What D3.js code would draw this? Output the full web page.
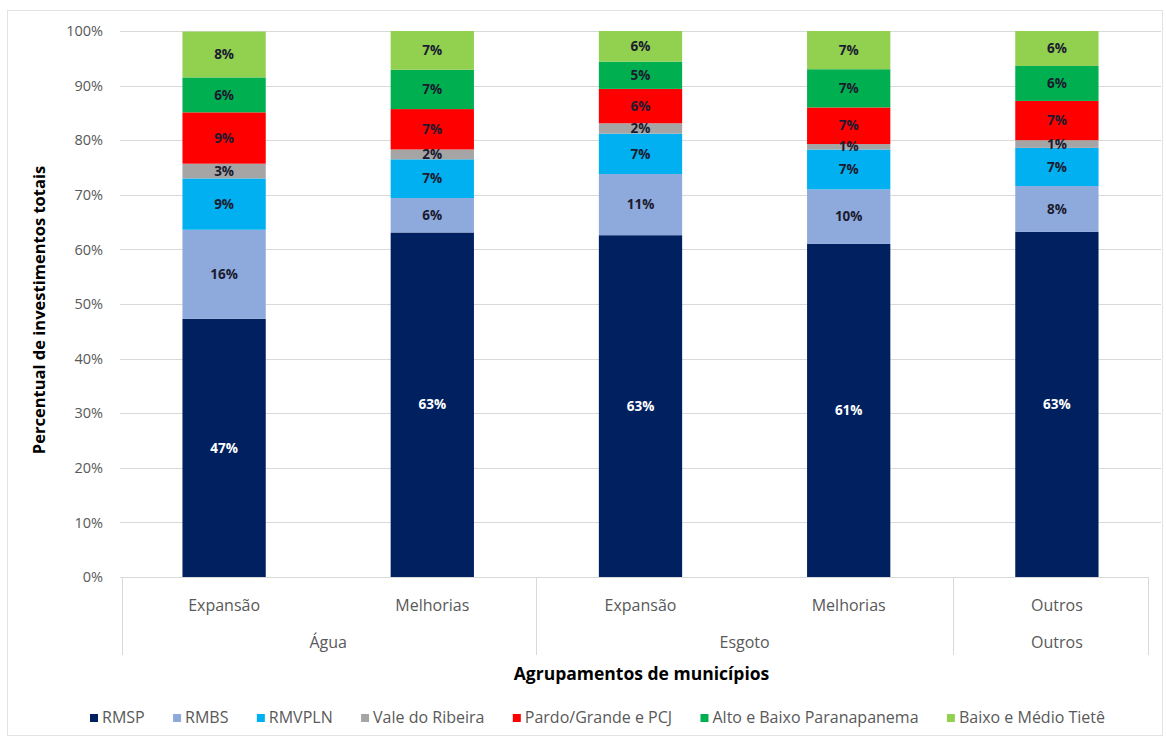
<!DOCTYPE html>
<html><head><meta charset="utf-8">
<script src="https://cdn.jsdelivr.net/npm/d3@7"></script>
<style>
html,body{margin:0;padding:0;background:#fff;}
svg text{font-family:"Open Sans",sans-serif;}
</style></head>
<body><svg id="c" width="1166" height="738"></svg>
<script>
// ---- data ----
const categories = ["Expansão","Melhorias","Expansão","Melhorias","Outros"];
const groups = ["Água","Água","Esgoto","Esgoto","Outros"];
const seriesNames = ["RMSP","RMBS","RMVPLN","Vale do Ribeira","Pardo/Grande e PCJ","Alto e Baixo Paranapanema","Baixo e Médio Tietê"];
const RMSP    = [47.3, 63.1, 62.6, 61.0, 63.2];
const RMBS    = [16.3,  6.3, 11.2, 10.0,  8.4];
const RMVPLN  = [ 9.4,  7.1,  7.4,  7.3,  7.0];
const Vale    = [ 2.7,  1.8,  1.9,  1.0,  1.4];
const Pardo   = [ 9.4,  7.4,  6.3,  6.7,  7.2];
const Alto    = [ 6.4,  7.2,  5.0,  7.0,  6.4];
const Baixo   = [ 8.4,  7.1,  5.6,  7.0,  6.4];
const yTicks = [0,10,20,30,40,50,60,70,80,90,100];
const colors = ["#002060","#8EA9DB","#00B0F0","#A5A5A5","#FF0000","#00B050","#92D050"];

(function(){
const seriesValues = [RMSP,RMBS,RMVPLN,Vale,Pardo,Alto,Baixo];
const table = categories.map((c,i)=>{
  const o = {idx:i};
  seriesNames.forEach((s,j)=>o[s]=seriesValues[j][i]);
  return o;
});

const svg = d3.select("#c");
svg.append("rect").attr("x",7.5).attr("y",10.5).attr("width",1155).attr("height",725)
  .attr("fill","#fff").attr("stroke","#e3e3e3");

const L=120, R=1161, T=31, B=577;
const x = d3.scaleBand().domain(d3.range(categories.length)).range([L,R]).paddingInner(0.6).paddingOuter(0.3);
const y = d3.scaleLinear().domain([0,100]).range([B,T]);

svg.append("g").selectAll("line").data(yTicks.filter(t=>t>0)).join("line")
  .attr("x1",L).attr("x2",R).attr("y1",d=>Math.round(y(d))+0.5).attr("y2",d=>Math.round(y(d))+0.5)
  .attr("stroke","#d9d9d9").attr("stroke-width",1);

const yAxis = d3.axisLeft(y).tickValues(yTicks).tickFormat(d=>d+"%").tickSize(0).tickPadding(0);
const ya = svg.append("g").attr("transform",`translate(${L-17},0)`).call(yAxis);
ya.select(".domain").remove();
ya.selectAll("text").attr("fill","#595959").style("font-size","14.5px").style("font-family","Open Sans");

const stacked = d3.stack().keys(seriesNames)(table);
const layers = svg.append("g").selectAll("g").data(stacked).join("g").attr("fill",(d,i)=>colors[i]);
layers.selectAll("rect").data(d=>d).join("rect")
  .attr("x",d=>x(d.data.idx)).attr("width",x.bandwidth())
  .attr("y",d=>y(d[1])).attr("height",d=>y(d[0])-y(d[1]));

const lab = svg.append("g");
stacked.forEach((layer,i)=>{
  lab.selectAll(null).data(layer).join("text")
    .attr("x",d=>x(d.data.idx)+x.bandwidth()/2)
    .attr("y",d=>(y(d[0])+y(d[1]))/2)
    .attr("dy","0.35em").attr("text-anchor","middle")
    .attr("fill", i===0 ? "#ffffff" : "#1b1b2f")
    .style("font-size","13.5px").style("font-weight","bold")
    .text(d=>Math.round(d[1]-d[0])+"%");
});

const axisG = svg.append("g");
const bx = x.bandwidth(), step = x.step();
axisG.append("line").attr("x1",L).attr("x2",R-12).attr("y1",B+0.5).attr("y2",B+0.5).attr("stroke","#d9d9d9");
const groupBounds = [L+2, x(2)-(step-bx)/2, x(4)-(step-bx)/2, R-13];
axisG.selectAll("line.sep").data(groupBounds).join("line").attr("class","sep")
  .attr("x1",d=>Math.round(d)+0.5).attr("x2",d=>Math.round(d)+0.5).attr("y1",B).attr("y2",B+78)
  .attr("stroke","#d9d9d9");
axisG.selectAll("text.l1").data(categories).join("text").attr("class","l1")
  .attr("x",(d,i)=>x(i)+bx/2).attr("y",B+34).attr("text-anchor","middle")
  .attr("fill","#595959").style("font-size","16px").text(d=>d);
const groupNames = Array.from(new Set(groups));
axisG.selectAll("text.l2").data(groupNames).join("text").attr("class","l2")
  .attr("x",g=>d3.mean(d3.range(groups.length).filter(i=>groups[i]===g),i=>x(i)+bx/2))
  .attr("y",B+71).attr("text-anchor","middle")
  .attr("fill","#595959").style("font-size","16px").text(d=>d);

svg.append("text").attr("x",(L+R)/2+1).attr("y",680).attr("text-anchor","middle")
  .attr("fill","#000").style("font-size","17.5px").style("font-weight","bold").text("Agrupamentos de municípios");
svg.append("text").attr("transform",`translate(45,${(T+B)/2+6}) rotate(-90)`).attr("text-anchor","middle")
  .attr("fill","#000").style("font-size","16.5px").style("font-weight","bold").text("Percentual de investimentos totais");

const leg = svg.append("g");
const items = leg.selectAll("g").data(seriesNames).join("g");
items.append("rect").attr("width",8).attr("height",8).attr("y",-9).attr("fill",(d,i)=>colors[i]);
items.append("text").attr("x",12).attr("y",0).attr("fill","#595959").style("font-size","16px").text(d=>d);
const widths = [];
items.each(function(){ widths.push(12 + d3.select(this).select("text").node().getComputedTextLength()); });
const span = 1105-90;
const gap = (span - d3.sum(widths))/(widths.length-1);
let cx=0;
items.each(function(d,i){
  d3.select(this).attr("transform",`translate(${cx},0)`);
  cx += widths[i] + gap;
});
leg.attr("transform",`translate(90,723)`);
})();
</script></body></html>
